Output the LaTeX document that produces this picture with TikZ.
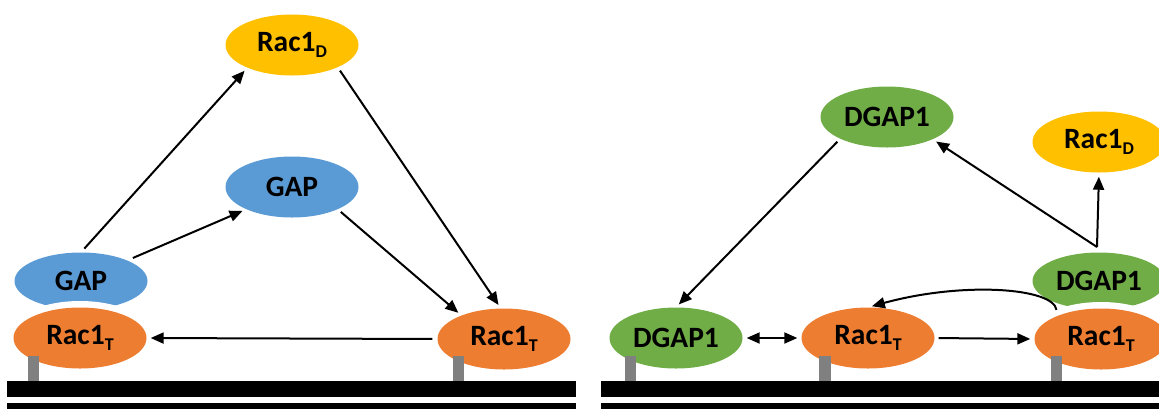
\documentclass[tikz,border=0pt]{standalone}
\usepackage{fontspec}
\setmainfont{Carlito}
\usetikzlibrary{shapes.geometric,arrows.meta}
\definecolor{rorange}{HTML}{ED7D31}
\definecolor{rblue}{HTML}{5B9BD5}
\definecolor{rgreen}{HTML}{70AD47}
\definecolor{ryellow}{HTML}{FFC000}
\definecolor{rgray}{HTML}{808080}
\newcommand\mysub[1]{\raisebox{-6pt}{\fontsize{18}{18}\selectfont #1}}
\begin{document}
\begin{tikzpicture}[x=1pt,y=-1pt,
  blob/.style={ellipse, minimum width=133pt, minimum height=61pt, inner sep=0pt,
    font=\fontsize{29.5}{29.5}\selectfont\bfseries},
  orangeblob/.style={blob, fill=rorange},
  blueblob/.style={blob, fill=rblue},
  greenblob/.style={blob, fill=rgreen},
  yellowblob/.style={blob, fill=ryellow},
  crescent/.style={blob, minimum height=57pt},
  cutter/.style={fill=white},
  stem/.style={fill=rgray},
  bar/.style={fill=black},
  conn/.style={line width=2pt, -{Triangle[length=13pt,width=11pt]},
    shorten >=4pt, shorten <=4pt},
  dconn/.style={conn, {Triangle[length=13pt,width=11pt]}-{Triangle[length=13pt,width=11pt]}}
]
\useasboundingbox (0,0) rectangle (1159,408);

% ---------- left panel ----------
\node[crescent, fill=rblue] (gapL) at (81,281) {GAP};
\fill[cutter] (80,338) ellipse [x radius=74pt, y radius=37pt];
\node[orangeblob] (racTL) at (80,338) {Rac1\mysub{T}};
\node[orangeblob] (racTR) at (504,339) {Rac1\mysub{T}};
\node[yellowblob] (racDL) at (292,45) {Rac1\mysub{D}};
\node[blueblob] (gapM) at (292,187) {GAP};

\fill[stem] (28,356) rectangle (39,381);
\fill[stem] (453,356) rectangle (464,381);
\fill[bar] (7,381) rectangle (576,397);
\fill[bar] (7,403) rectangle (576,412);

\draw[conn, shorten <=5pt] (gapL.north) -- (racDL.207);
\draw[conn, shorten <=6pt] (gapL.24) -- (gapM.206);
\draw[conn] (gapM.334) -- (racTR.151);
\draw[conn] (racDL.334) -- (racTR.96);
\draw[conn, shorten <=5pt] (racTR.west) -- (racTL.east);

% ---------- right panel ----------
\node[crescent, fill=rgreen] (dgapR) at (1099,281) {DGAP1};
\fill[cutter] (1101,339) ellipse [x radius=74pt, y radius=37pt];
\node[greenblob] (dgapL) at (676,338) {DGAP1};
\node[orangeblob] (racM) at (868,338) {Rac1\mysub{T}};
\node[orangeblob] (racR) at (1101,339) {Rac1\mysub{T}};
\node[greenblob] (dgapT) at (887,117) {DGAP1};
\node[yellowblob] (racDR) at (1099,142) {Rac1\mysub{D}};
\coordinate (J) at (1097,247);

\fill[stem] (625,356) rectangle (636,381);
\fill[stem] (819,356) rectangle (831,381);
\fill[stem] (1051,356) rectangle (1062,381);
\fill[bar] (601,381) rectangle (1165,397);
\fill[bar] (601,403) rectangle (1165,412);

\draw[conn] (dgapT.205) -- (dgapL.north);
\draw[dconn] (dgapL.east) -- (racM.west);
\draw[conn] (racM.east) -- (racR.west);
\draw[conn, shorten <=6pt] (racR.152) .. controls +(-4,-28) and +(95,-26) .. (racM.north);
\draw[conn, shorten <=0pt] (J) -- (dgapT.334);
\draw[conn, shorten <=0pt] (J) -- (racDR.south);
\end{tikzpicture}
\end{document}
